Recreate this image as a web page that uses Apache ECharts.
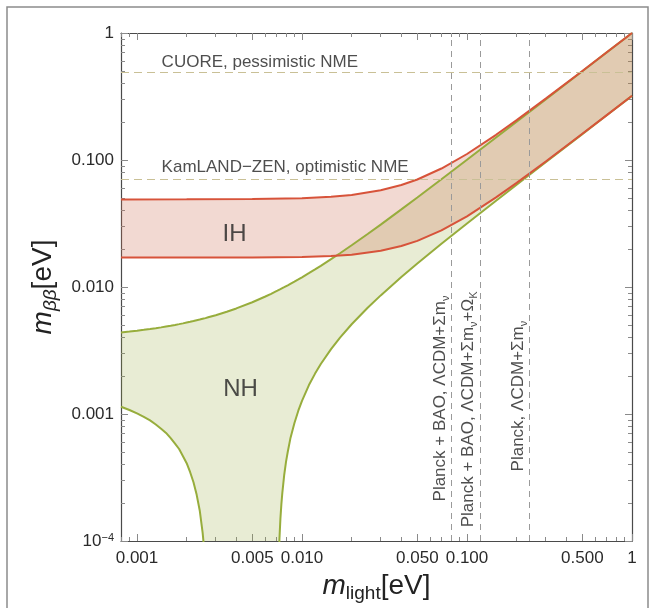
<!DOCTYPE html>
<html>
<head>
<meta charset="utf-8">
<script src="https://cdn.jsdelivr.net/npm/echarts@6/dist/echarts.min.js"></script>
<style>
html,body{margin:0;padding:0;background:#fff;}
#chart{width:655px;height:608px;}
</style>
</head>
<body>
<div id="chart"></div>
<script>
// ---------- data ----------
// Normal hierarchy band: lightest mass (eV), lower and upper m_bb (eV)
const mNH = [0.0008, 0.0009, 0.001, 0.0011, 0.0012, 0.0013, 0.0014, 0.0015, 0.0016, 0.0017, 0.0018, 0.0019,
  0.002, 0.0021, 0.0022, 0.0023, 0.0024, 0.0025, 0.00255, 0.0026, 0.0027,
  0.003, 0.0035, 0.004, 0.005, 0.006, 0.0065, 0.0069, 0.0071, 0.0072, 0.0073, 0.0074, 0.0075, 0.0076, 0.0078,
  0.008, 0.0082, 0.0085, 0.009, 0.0095, 0.01, 0.011, 0.012, 0.013, 0.015, 0.017, 0.02, 0.025, 0.03, 0.04,
  0.05, 0.07, 0.1, 0.15, 0.2, 0.3, 0.5, 0.7, 1];
const nhUpper = [0.00439, 0.00446, 0.00453, 0.00460, 0.00467, 0.00474, 0.00481, 0.00489, 0.00496, 0.00503, 0.00510, 0.00517,
  0.00525, 0.00532, 0.00539, 0.00547, 0.00554, 0.00562, 0.00565, 0.00569, 0.00577,
  0.00600, 0.00638, 0.00678, 0.00759, 0.00842, 0.00884, 0.00919, 0.00936, 0.00944, 0.00953, 0.00962, 0.00971, 0.00979, 0.00997,
  0.01014, 0.01032, 0.01059, 0.01103, 0.01148, 0.01193, 0.01284, 0.01376, 0.01468, 0.01656, 0.01845, 0.02132, 0.02614, 0.03101, 0.04082,
  0.05069, 0.07052, 0.1004, 0.1503, 0.2002, 0.3001, 0.5001, 0.7001, 1.0];
const nhLower = [0.00114, 0.001075, 0.00101, 0.00095, 0.00089, 0.000827, 0.000766, 0.00071, 0.000645, 0.000585, 0.00053, 0.000465,
  0.00041, 0.000348, 0.00029, 0.000231, 0.000174, 0.000116, 0.000088, 0.000059, 0.000003,
  0.000001, 0.000001, 0.000001, 0.000001, 0.000001, 0.000001, 0.000001, 0.000015, 0.00006, 0.000104, 0.00015, 0.000195, 0.000239, 0.00033,
  0.00042, 0.000504, 0.00064, 0.00085, 0.001062, 0.00127, 0.001682, 0.00208, 0.002476, 0.00324, 0.003991, 0.00509, 0.006856, 0.00859, 0.01198,
  0.01531, 0.02188, 0.03162, 0.04774, 0.06381, 0.09587, 0.1599, 0.2239, 0.3200];

// Inverted hierarchy band
const mIH = [0.0008, 0.002, 0.005, 0.01, 0.015, 0.02, 0.03, 0.04, 0.05, 0.07, 0.1, 0.15, 0.2, 0.3, 0.5, 0.7, 1];
const ihUpper = [0.04893, 0.04898, 0.04925, 0.05009, 0.05138, 0.05311, 0.05769, 0.0635, 0.07025, 0.08567, 0.1115, 0.1579, 0.2060, 0.3041, 0.5024, 0.7017, 1.0];
const ihLower = [0.01709, 0.01707, 0.01708, 0.01722, 0.01752, 0.01798, 0.01928, 0.02102, 0.02308, 0.02788, 0.03604, 0.05077, 0.06611, 0.09742, 0.1609, 0.2246, 0.3204];

// Experimental limits (horizontal) and cosmological bounds (vertical)
const limitValues = [0.49, 0.075];
const limitNames = ['CUORE, pessimistic NME', 'KamLAND\u2212ZEN, optimistic NME'];
const cosmoValues = [0.081, 0.12, 0.24];
const cosmoNames = [
  '{t|Planck + BAO, \u039BCDM+\u03A3m}{s|\u03BD}',
  '{t|Planck + BAO, \u039BCDM+\u03A3m}{s|\u03BD}{t|+\u03A9}{s|K}',
  '{t|Planck, \u039BCDM+\u03A3m}{s|\u03BD}'
];

// Tick labels
const xTickValues = [0.001, 0.005, 0.01, 0.05, 0.1, 0.5, 1];
const xTickLabels = ['0.001', '0.005', '0.010', '0.050', '0.100', '0.500', '1'];
const yTickValues = [0.0001, 0.001, 0.01, 0.1, 1];
const yTickLabels = ['{b|10}{p|\u22124}', '0.001', '0.010', '0.100', '1'];

// ---------- layout / style ----------
const xMin = 0.0008, xMax = 1, yMin = 0.0001, yMax = 1;
function minorTicks(lo, hi) {
  const out = [];
  for (let d = -5; d <= 0; d++) {
    for (let k = 1; k <= 9; k++) {
      const v = +(k * Math.pow(10, d)).toPrecision(6);
      if (v >= lo * 0.9999 && v <= hi * 1.0001) out.push(v);
    }
  }
  return out;
}
const xMinor = minorTicks(xMin, xMax).filter(v => xTickValues.indexOf(v) < 0);
const yMinor = minorTicks(yMin, yMax).filter(v => yTickValues.indexOf(v) < 0);

const FONT = '"Liberation Sans", Arial, Helvetica, sans-serif';
const AX = '#4a4a4a';
const TICK = '#8a8a8a';

function labelFor(values, labels) {
  return function (v) {
    for (let i = 0; i < values.length; i++) {
      if (Math.abs(Math.log10(v) - Math.log10(values[i])) < 1e-6) return labels[i];
    }
    return '';
  };
}

function axis(kind, pos, major, withLabels) {
  const isX = kind === 'x';
  const a = {
    type: 'log', logBase: 10,
    min: isX ? xMin : yMin, max: isX ? xMax : yMax,
    position: pos,
    axisLine: { show: major, onZero: false, lineStyle: { color: AX, width: 1.2 } },
    axisTick: {
      show: true, inside: true, length: major ? 7 : 4,
      customValues: major ? (isX ? xTickValues : yTickValues) : (isX ? xMinor : yMinor),
      lineStyle: { color: TICK, width: 1 }
    },
    axisLabel: { show: false },
    splitLine: { show: false },
    minorTick: { show: false },
    silent: true
  };
  if (withLabels) {
    a.axisLabel = {
      show: true,
      customValues: isX ? xTickValues : yTickValues,
      formatter: isX ? labelFor(xTickValues, xTickLabels) : labelFor(yTickValues, yTickLabels),
      fontFamily: FONT, fontSize: 17, color: '#2a2a2a',
      margin: isX ? 9 : 7,
      hideOverlap: false,
      rich: {
        b: { fontFamily: FONT, fontSize: 17, color: '#2a2a2a' },
        p: { fontFamily: FONT, fontSize: 11, color: '#2a2a2a', verticalAlign: 'top', lineHeight: 12 }
      }
    };
  }
  return a;
}

const xAxes = [
  axis('x', 'bottom', true, true),
  axis('x', 'bottom', false, false),
  axis('x', 'top', true, false),
  axis('x', 'top', false, false)
];
xAxes[0].name = '{m|m}{s|light}{n|[eV]}';
xAxes[0].nameLocation = 'middle';
xAxes[0].nameGap = 27;
xAxes[0].nameTextStyle = {
  fontFamily: FONT, color: '#222',
  rich: {
    m: { fontFamily: FONT, fontSize: 28, fontStyle: 'italic', color: '#222', lineHeight: 34, verticalAlign: 'middle' },
    s: { fontFamily: FONT, fontSize: 19, color: '#222', lineHeight: 12, verticalAlign: 'bottom' },
    n: { fontFamily: FONT, fontSize: 28, color: '#222', lineHeight: 34, verticalAlign: 'middle' }
  }
};
const yAxes = [
  axis('y', 'left', true, true),
  axis('y', 'left', false, false),
  axis('y', 'right', true, false),
  axis('y', 'right', false, false)
];
yAxes[0].name = '{m|m}{s|\u03B2\u03B2}{n|[eV]}';
yAxes[0].nameLocation = 'middle';
yAxes[0].nameGap = 55;
yAxes[0].nameTextStyle = {
  fontFamily: FONT, color: '#222',
  rich: {
    m: { fontFamily: FONT, fontSize: 28, fontStyle: 'italic', color: '#222', lineHeight: 34, verticalAlign: 'middle' },
    s: { fontFamily: FONT, fontSize: 19, fontStyle: 'italic', color: '#222', lineHeight: 12, verticalAlign: 'bottom' },
    n: { fontFamily: FONT, fontSize: 28, color: '#222', lineHeight: 34, verticalAlign: 'middle' }
  }
};

const RED = '#d7533a';
const GREEN = '#97ad3c';

function curve(ms, vals, color) {
  return {
    type: 'line', data: ms.map((m, i) => [m, vals[i]]),
    symbol: 'none', showSymbol: false, smooth: false, clip: true, silent: true,
    lineStyle: { color: color, width: 2 },
    xAxisIndex: 0, yAxisIndex: 0, z: 3
  };
}

// filled band between two curves, positioned through the axes' own scales
function band(ms, lo, hi, fill, z) {
  return {
    type: 'custom', coordinateSystem: 'cartesian2d', xAxisIndex: 0, yAxisIndex: 0,
    silent: true, z: z, clip: true,
    data: [[ms[0], hi[0]]],
    renderItem: function (params, api) {
      const pts = [];
      for (let i = 0; i < ms.length; i++) pts.push(api.coord([ms[i], hi[i]]));
      for (let i = ms.length - 1; i >= 0; i--) pts.push(api.coord([ms[i], lo[i]]));
      const cs = params.coordSys;
      return {
        type: 'polygon', shape: { points: pts }, style: { fill: fill },
        clipPath: { type: 'rect', shape: { x: cs.x, y: cs.y, width: cs.width, height: cs.height } }
      };
    }
  };
}

// annotations anchored at data coordinates
const hAnchorsX = [0.00142, 0.00142];
const hAnchorsY = [0.58, 0.0865];
const vAnchorsY = [0.000203, 0.000127, 0.00035];
const regionNames = ['IH', 'NH'];
const regionX = [0.00393, 0.00427];
const regionY = [0.0256, 0.00155];

const annData = [];
limitNames.forEach((t, i) => annData.push({
  value: [hAnchorsX[i], hAnchorsY[i]],
  label: { show: true, formatter: t, position: [0, 0], align: 'left', verticalAlign: 'middle',
    fontFamily: FONT, fontSize: 17, color: '#222' }
}));
cosmoNames.forEach((t, i) => annData.push({
  value: [cosmoValues[i], vAnchorsY[i]],
  label: { show: true, formatter: t, position: [0, 0], rotate: 90, align: 'left', verticalAlign: 'bottom',
    rich: {
      t: { fontFamily: FONT, fontSize: 17, color: '#222', lineHeight: 22, verticalAlign: 'middle' },
      s: { fontFamily: FONT, fontSize: 11, color: '#222', lineHeight: 10, verticalAlign: 'bottom' }
    } }
}));
regionNames.forEach((t, i) => annData.push({
  value: [regionX[i], regionY[i]],
  label: { show: true, formatter: t, position: [0, 0], align: 'center', verticalAlign: 'middle',
    fontFamily: FONT, fontSize: 24, color: '#222' }
}));

const refLines = [];
cosmoValues.forEach(v => refLines.push({ xAxis: v, lineStyle: { color: '#9a9a9a', type: [6, 5], width: 1 } }));
limitValues.forEach(v => refLines.push({ yAxis: v, lineStyle: { color: '#c9c096', type: [8, 5], width: 1.2 } }));

const chart = echarts.init(document.getElementById('chart'), null, { renderer: 'canvas' });
chart.setOption({
  backgroundColor: '#fff',
  animation: false,
  grid: { left: 121, right: 23, top: 33, bottom: 67, containLabel: false, outerBoundsMode: 'none' },
  xAxis: xAxes,
  yAxis: yAxes,
  graphic: [{
    type: 'rect', silent: true, z: -1,
    shape: { x: 7, y: 7, width: 641, height: 630 },
    style: { fill: 'none', stroke: '#8c8c8c', lineWidth: 1.5 }
  }],
  series: [
    band(mNH, nhLower, nhUpper, 'rgba(150,170,60,0.22)', 1),
    band(mIH, ihLower, ihUpper, 'rgba(205,110,80,0.26)', 2),
    curve(mNH, nhLower, GREEN),
    curve(mNH, nhUpper, GREEN),
    curve(mIH, ihLower, RED),
    curve(mIH, ihUpper, RED),
    {
      type: 'scatter', data: annData, symbol: 'circle', symbolSize: 1,
      itemStyle: { color: 'rgba(0,0,0,0)' }, silent: true, z: 5, clip: false,
      xAxisIndex: 0, yAxisIndex: 0,
      markLine: { silent: true, symbol: 'none', label: { show: false }, data: refLines, z: 4 }
    }
  ]
});
</script>
</body>
</html>
